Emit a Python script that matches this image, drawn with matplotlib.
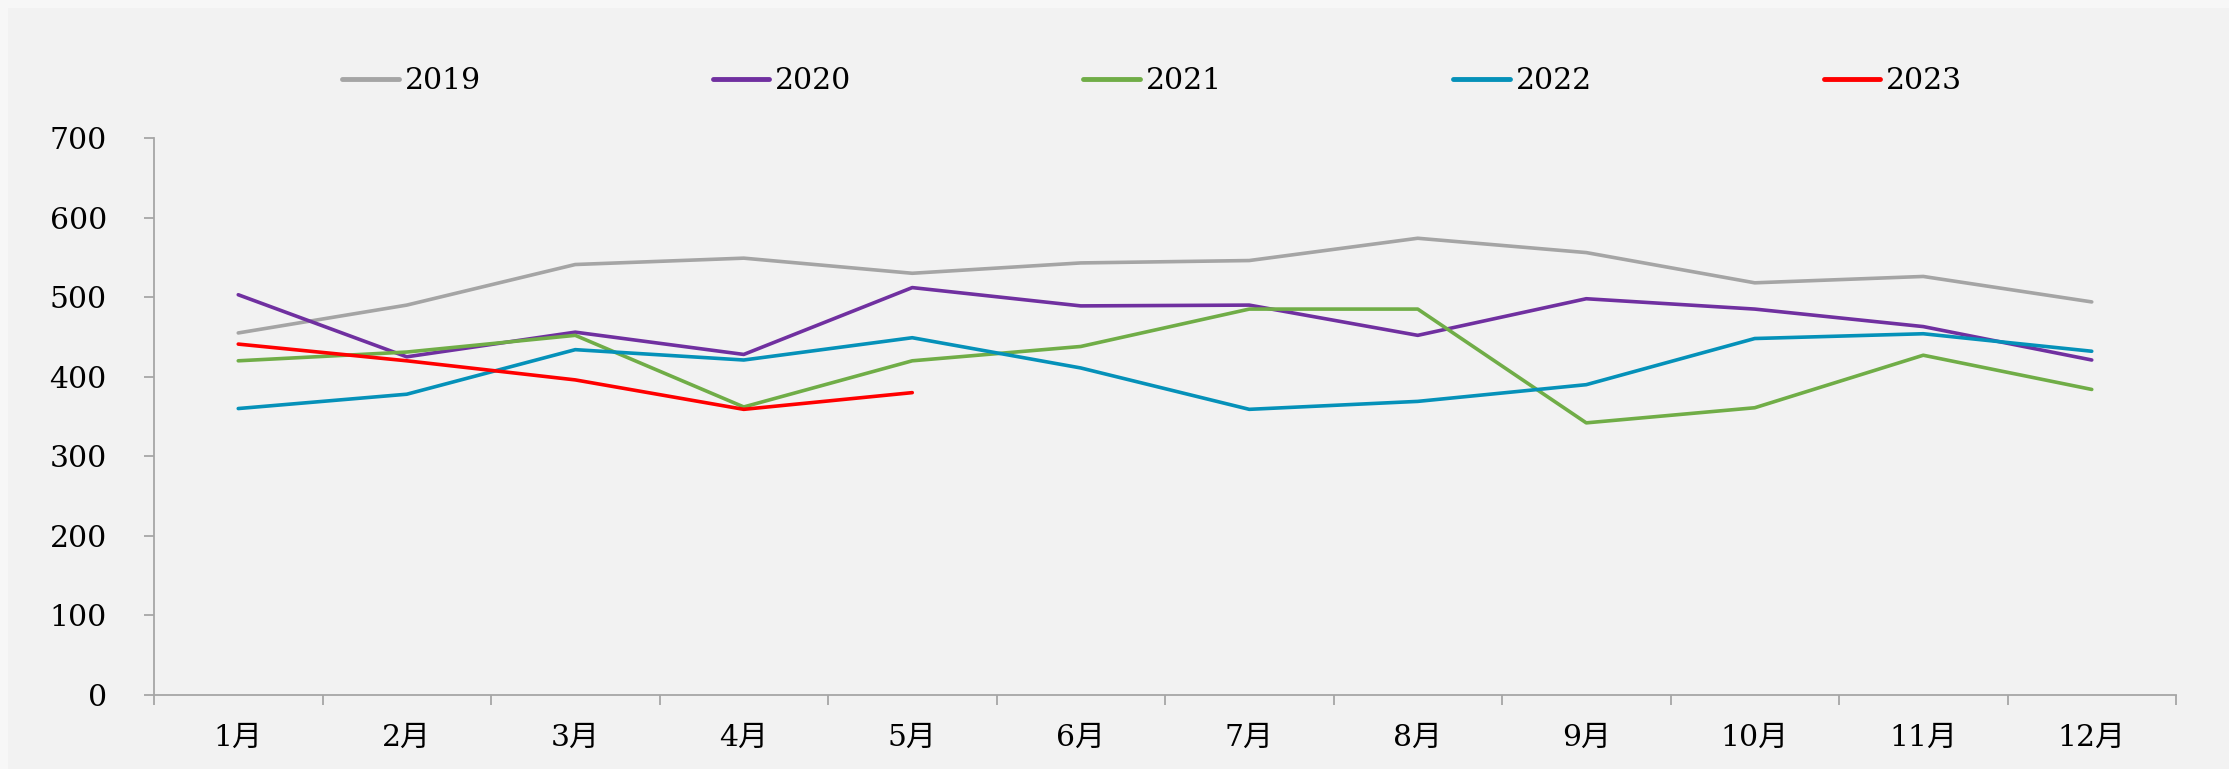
import numpy as np
import matplotlib
matplotlib.use("Agg")
import matplotlib.pyplot as plt
from matplotlib.patches import Rectangle

months = ['1月', '2月', '3月', '4月', '5月', '6月', '7月', '8月', '9月', '10月', '11月', '12月']
y2019 = [455, 490, 541, 549, 530, 543, 546, 574, 556, 518, 526, 494]
y2020 = [503, 425, 456, 428, 512, 489, 490, 452, 498, 485, 463, 421]
y2021 = [420, 431, 452, 362, 420, 438, 485, 485, 342, 361, 427, 384]
y2022 = [360, 378, 434, 421, 449, 411, 359, 369, 390, 448, 454, 432]
y2023 = [441, 420, 396, 359, 380]

series = [('2019', y2019, '#A5A5A5'), ('2020', y2020, '#7030A0'),
          ('2021', y2021, '#70AD47'), ('2022', y2022, '#0591B9'),
          ('2023', y2023, '#FF0000')]

fam = ['DejaVu Serif', 'Noto Sans CJK SC']
plt.rcParams['font.family'] = fam

W, H = 2229, 769
fig = plt.figure(figsize=(W / 100, H / 100), dpi=100, facecolor='#F7F7F7')
fig.patches.append(Rectangle((8 / W, 0), 1 - 8 / W, 1 - 8 / H, transform=fig.transFigure,
                             facecolor='#F2F2F2', edgecolor='none', zorder=-5))

ax = fig.add_axes([154 / W, 1 - 695 / H, (2176 - 154) / W, (695 - 138) / H], zorder=2)
ax.set_facecolor('none')

x = np.arange(len(months))
for name, vals, col in series:
    ax.plot(x[:len(vals)], vals, color=col, lw=2.6, label=name, solid_capstyle='round')

ax.set_xlim(-0.5, len(months) - 0.5)
ax.set_ylim(0, 700)
ax.set_yticks(range(0, 701, 100))
ax.set_xticks(x)
ax.set_xticklabels(months)
ax.set_xticks(np.arange(-0.5, len(months), 1), minor=True)

for s in ['top', 'right']:
    ax.spines[s].set_visible(False)
for s in ['left', 'bottom']:
    ax.spines[s].set_color('#A6A6A6')
    ax.spines[s].set_linewidth(1.3)

ax.tick_params(axis='y', length=7, width=1.3, color='#A6A6A6', pad=27, labelsize=21.5)
ax.tick_params(axis='x', which='major', length=0, pad=21, labelsize=21.5)
ax.tick_params(axis='x', which='minor', length=7, width=1.3, color='#A6A6A6')

leg = fig.legend(loc='center', bbox_to_anchor=(0.517, 1 - 81 / H), ncol=5, frameon=False,
                 fontsize=21.5, handlelength=1.9, handletextpad=0.2, columnspacing=7.75)
for h in leg.get_lines():
    h.set_linewidth(3.5)

fig.savefig('out.png', dpi=100, facecolor=fig.get_facecolor())
